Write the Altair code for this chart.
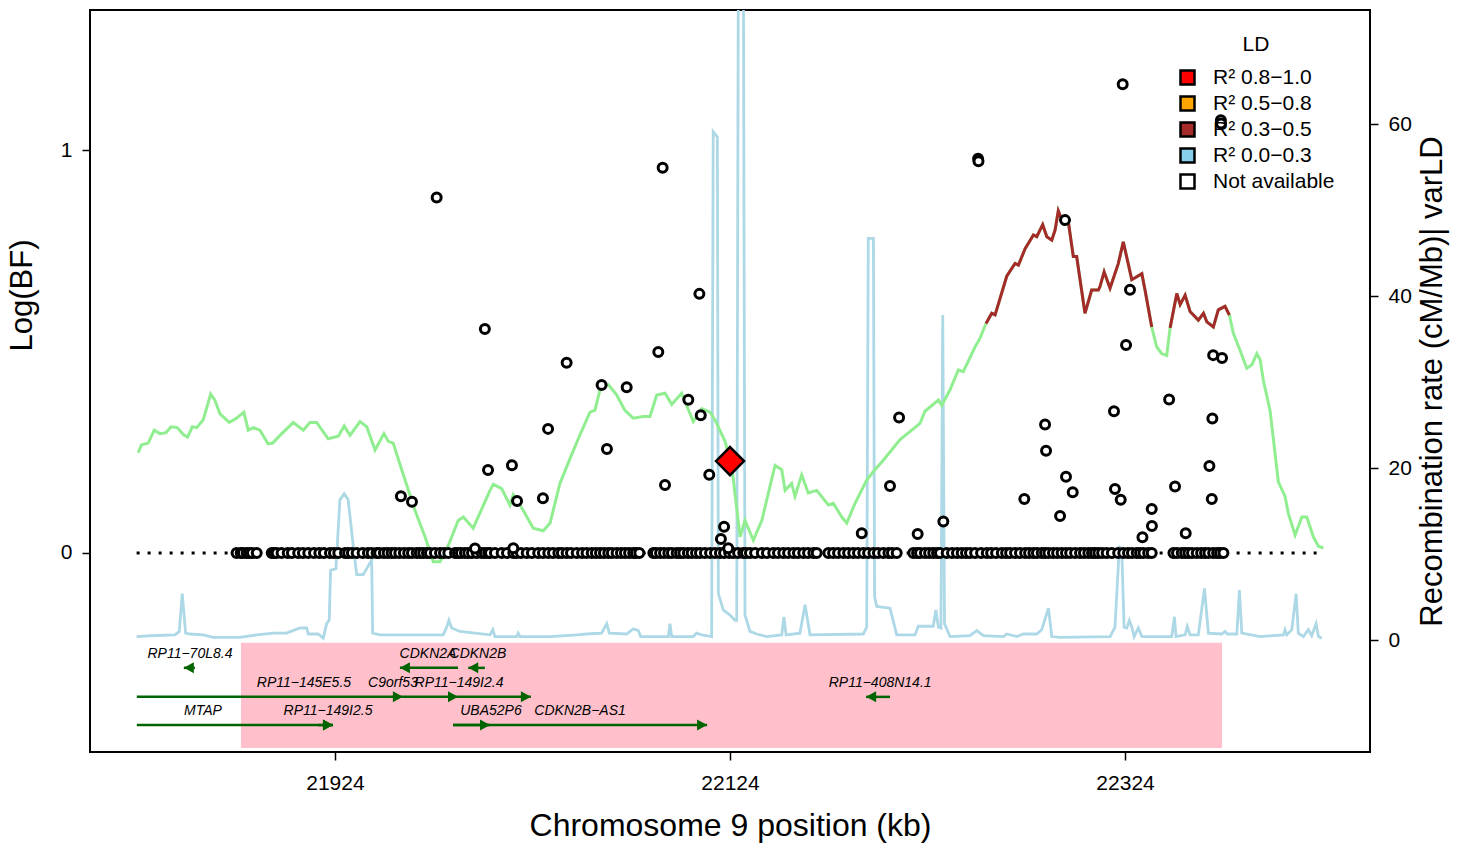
import altair as alt
import pandas as pd

FONT = "Liberation Sans"

# ---------------- data (kb positions, Log(BF), cM/Mb) ----------------
snp_zero_pos = [
    21874.2, 21876.3, 21877.4, 21879.3, 21880.6, 21882.0, 21884.4, 21892.0, 21893.1, 21894.5,
    21897.0, 21900.1, 21902.2, 21905.4, 21907.8, 21910.5, 21913.4, 21916.1, 21918.4, 21921.5,
    21923.5, 21925.7, 21929.1, 21930.7, 21932.6, 21935.0, 21938.0, 21940.7, 21942.6, 21945.1,
    21946.4, 21948.8, 21950.7, 21952.7, 21954.4, 21956.6, 21958.9, 21961.1, 21963.0, 21965.4,
    21967.0, 21968.7, 21970.6, 21972.1, 21974.6, 21977.2, 21979.2, 21981.4, 21984.8, 21986.3,
    21987.8, 21989.8, 21991.5, 21993.4, 21995.8, 21998.3, 21999.9, 22001.6, 22002.5, 22005.0,
    22008.4, 22011.1, 22014.3, 22016.0, 22018.2, 22021.1, 22023.7, 22026.9, 22029.3, 22032.0,
    22034.4, 22037.1, 22038.9, 22041.3, 22043.5, 22046.4, 22049.1, 22051.4, 22054.0, 22056.1,
    22058.2, 22060.2, 22062.4, 22064.2, 22066.6, 22068.8, 22070.8, 22072.9, 22075.0, 22076.4,
    22078.1, 22085.2, 22086.5, 22088.6, 22090.6, 22092.8, 22094.6, 22097.0, 22098.7, 22100.4,
    22102.7, 22104.6, 22106.8, 22108.8, 22111.3, 22113.9, 22116.4, 22118.9, 22121.0, 22123.6,
    22125.7, 22128.1, 22130.7, 22132.1, 22134.1, 22136.7, 22140.1, 22142.7, 22145.9, 22148.3,
    22151.0, 22153.4, 22156.1, 22158.4, 22161.1, 22163.5, 22166.2, 22167.9, 22173.8, 22176.2,
    22178.7, 22181.4, 22183.8, 22186.4, 22188.8, 22191.5, 22193.9, 22196.6, 22198.9, 22201.6,
    22204.2, 22206.0, 22208.4, 22216.8, 22218.7, 22220.2, 22222.7, 22224.8, 22226.9, 22228.8,
    22230.3, 22233.7, 22236.4, 22238.9, 22241.3, 22243.5, 22245.5, 22248.1, 22251.1, 22254.0,
    22256.2, 22258.7, 22261.6, 22263.8, 22265.8, 22268.3, 22270.8, 22273.4, 22275.4, 22277.6,
    22279.4, 22281.8, 22283.5, 22285.2, 22287.5, 22289.6, 22291.9, 22294.1, 22296.2, 22298.7,
    22301.2, 22303.2, 22305.4, 22307.3, 22308.8, 22310.5, 22312.4, 22314.7, 22317.3, 22320.5,
    22323.1, 22325.5, 22327.5, 22329.9, 22331.6, 22333.3, 22335.7, 22337.5, 22348.5, 22350.3,
    22352.7, 22354.4, 22356.1, 22357.9, 22360.3, 22362.5, 22364.5, 22366.2, 22368.6, 22370.6,
    22372.1, 22373.8,
]

snp_pos = [
    21975.5, 21999.9, 21957.4, 21963.0, 22001.5, 22013.6, 22016.2, 22029.3, 22031.9, 22041.3,
    22059.0, 22071.7, 22061.7, 22087.7, 22089.9, 22108.5, 22102.9, 22109.2, 22091.1, 22113.5,
    22121.0, 22119.4, 22123.1, 21994.9, 22014.3, 22190.7, 22205.0, 22209.6, 22219.0, 22232.0,
    22249.6, 22249.8, 22273.0, 22283.5, 22284.0, 22291.1, 22294.1, 22297.5, 22293.6, 22322.8,
    22326.5, 22324.5, 22318.4, 22318.9, 22321.8, 22332.8, 22337.5, 22337.6, 22346.3, 22349.3,
    22354.7, 22366.7, 22367.9, 22368.2, 22368.6, 22373.1, 22372.5, 22372.6,
]
snp_logbf = [
    0.882, 0.556, 0.141, 0.127, 0.206, 0.218, 0.129, 0.136, 0.308, 0.472,
    0.417, 0.411, 0.258, 0.499, 0.956, 0.643, 0.380, 0.342, 0.169, 0.194,
    0.065, 0.035, 0.012, 0.011, 0.012, 0.049, 0.166, 0.336, 0.047, 0.078,
    0.978, 0.972, 0.134, 0.319, 0.254, 0.092, 0.189, 0.151, 0.826, 1.163,
    0.653, 0.516, 0.352, 0.159, 0.132, 0.039, 0.109, 0.067, 0.381, 0.165,
    0.049, 0.216, 0.134, 0.334, 0.491, 0.484, 1.074, 1.066,
]

lead_pos = [22124.0]
lead_logbf = [0.228]

varld_pos = [
    21824.4, 21826.1, 21829.5, 21832.5, 21835.4, 21838.4, 21841.0, 21844.2, 21847.2, 21849.4,
    21851.8, 21854.0, 21857.3, 21861.1, 21863.2, 21865.8, 21870.5, 21874.2, 21877.9, 21880.1,
    21882.6, 21886.0, 21890.2, 21892.5, 21896.2, 21902.9, 21908.0, 21911.3, 21914.7, 21920.6,
    21925.7, 21928.7, 21931.6, 21936.7, 21940.1, 21944.3, 21948.8, 21951.0, 21953.5, 21957.8,
    21964.5, 21969.6, 21973.8, 21977.2, 21981.4, 21986.4, 21989.0, 21994.0, 22002.5, 22004.2,
    22008.4, 22012.6, 22014.3, 22019.3, 22024.4, 22029.5, 22032.9, 22037.9, 22043.0, 22047.2,
    22053.1, 22055.6, 22058.2, 22062.4, 22066.6, 22070.8, 22075.0, 22080.1, 22083.5, 22086.9,
    22091.1, 22094.5, 22099.5, 22105.4, 22109.7, 22113.9, 22116.4, 22121.5, 22124.9, 22129.1,
    22131.6, 22135.8, 22140.1, 22146.8, 22150.2, 22151.9, 22155.2, 22156.9, 22160.3, 22163.6,
    22167.9, 22173.8, 22176.3, 22180.6, 22183.1, 22187.3, 22193.2, 22196.6, 22201.6, 22210.1,
    22220.2, 22222.7, 22229.5, 22231.2, 22235.4, 22239.6, 22242.1, 22248.1, 22250.6, 22253.6,
    22256.5, 22258.2, 22264.1, 22268.3, 22270.0, 22273.4, 22277.6, 22279.3, 22282.3, 22284.4,
    22286.9, 22288.6, 22290.2, 22292.8, 22295.3, 22297.8, 22299.5, 22303.7, 22307.1, 22310.5,
    22311.3, 22313.4, 22316.4, 22320.6, 22323.1, 22327.4, 22332.5, 22334.1, 22337.5, 22340.0,
    22342.6, 22345.1, 22346.8, 22350.2, 22351.9, 22354.4, 22356.9, 22361.1, 22363.7, 22365.4,
    22368.7, 22371.2, 22374.6, 22376.8, 22378.8, 22382.2, 22385.6, 22388.2, 22390.7, 22392.4,
    22394.0, 22397.4, 22401.6, 22405.0, 22406.7, 22410.1, 22413.5, 22416.0, 22419.3, 22421.9,
    22424.4,
]
varld_val = [
    21.8, 22.7, 22.9, 24.4, 24.0, 24.1, 24.8, 24.7, 23.9, 23.6,
    24.8, 24.7, 25.6, 28.6, 27.9, 26.3, 25.3, 25.8, 26.5, 24.4,
    24.7, 24.4, 22.8, 22.9, 23.8, 25.3, 24.4, 25.3, 25.3, 23.4,
    23.7, 24.9, 23.8, 25.4, 24.8, 22.1, 24.0, 23.1, 22.9, 19.8,
    15.1, 12.0, 9.1, 9.1, 11.0, 13.9, 14.3, 13.0, 17.4, 18.1,
    17.6, 15.7, 16.9, 15.1, 13.0, 12.7, 13.6, 18.2, 21.1, 23.4,
    26.5, 26.7, 29.1, 29.7, 28.5, 26.7, 25.8, 26.0, 26.0, 28.5,
    28.7, 27.4, 28.7, 25.4, 26.9, 26.5, 25.6, 23.1, 20.2, 12.0,
    13.9, 11.6, 13.9, 20.3, 19.8, 17.4, 18.2, 16.7, 19.2, 17.1,
    17.4, 15.7, 15.9, 14.3, 13.6, 15.9, 18.6, 19.6, 20.9, 23.3,
    25.2, 26.6, 27.9, 27.3, 29.1, 31.4, 31.2, 34.1, 35.1, 36.8,
    38.0, 37.8, 42.3, 43.8, 43.6, 45.5, 47.1, 46.9, 48.3, 46.9,
    46.5, 47.7, 49.9, 48.4, 48.6, 44.6, 44.6, 38.0, 40.7, 40.7,
    41.1, 42.8, 40.9, 43.8, 46.3, 41.9, 42.6, 40.7, 36.4, 34.1,
    33.3, 33.1, 36.3, 40.3, 39.0, 40.1, 38.2, 37.2, 38.0, 37.0,
    36.4, 38.4, 38.8, 37.8, 35.7, 33.7, 31.6, 32.0, 33.3, 32.6,
    30.2, 26.7, 18.4, 16.7, 14.7, 12.2, 14.3, 14.3, 12.0, 10.9,
    10.7,
]
# LD class of each varLD point: 1 = R2 0.3-0.5 (brown), 0 = other (green)
varld_high = [0] * 109 + [1] * 30 + [0] * 3 + [1] * 12 + [0] * 17

recomb_pos = [
    21823.6, 21830.3, 21843.0, 21845.2, 21846.7, 21848.4, 21850.6, 21857.3, 21862.4, 21875.9,
    21884.4, 21892.8, 21899.5, 21906.3, 21909.7, 21910.5, 21915.5, 21918.1, 21919.8, 21921.1,
    21921.8, 21924.5, 21926.5, 21928.7, 21930.7, 21933.3, 21935.0, 21938.3, 21942.6, 21943.1,
    21946.8, 21978.8, 21980.6, 21981.7, 21983.1, 21987.3, 22002.5, 22003.9, 22005.0, 22016.0,
    22016.8, 22017.7, 22032.9, 22046.4, 22051.4, 22059.0, 22060.2, 22061.6, 22062.9, 22071.7,
    22075.0, 22077.6, 22078.8, 22092.8, 22093.6, 22094.5, 22105.4, 22107.1, 22109.7, 22114.7,
    22115.5, 22117.6, 22118.1, 22120.6, 22124.0, 22126.5, 22127.4, 22128.3, 22130.7, 22131.6,
    22134.1, 22137.5, 22142.6, 22150.2, 22151.3, 22152.4, 22159.4, 22162.0, 22164.5, 22191.5,
    22193.2, 22194.0, 22196.6, 22197.2, 22198.3, 22205.0, 22208.4, 22217.7, 22219.3, 22226.9,
    22228.2, 22229.5, 22230.8, 22231.7, 22232.6, 22235.4, 22245.5, 22248.9, 22252.3, 22262.4,
    22264.1, 22269.2, 22272.5, 22279.3, 22281.8, 22285.2, 22286.9, 22291.1, 22316.4, 22318.9,
    22321.1, 22322.3, 22323.5, 22324.9, 22326.2, 22327.4, 22328.6, 22330.7, 22332.5, 22347.6,
    22349.0, 22349.8, 22354.4, 22355.5, 22356.9, 22361.1, 22364.2, 22366.2, 22373.0, 22374.6,
    22375.8, 22380.6, 22381.9, 22383.1, 22392.4, 22404.2, 22405.0, 22405.9, 22408.4, 22410.6,
    22411.7, 22414.3, 22416.8, 22418.5, 22420.7, 22421.9, 22423.6,
]
recomb_rate = [
    0.4, 0.5, 0.6, 1.0, 5.4, 0.8, 0.7, 0.6, 0.3, 0.3,
    0.6, 0.8, 0.8, 1.4, 1.4, 0.7, 0.7, 0.2, 1.9, 2.3,
    8.1, 8.3, 16.3, 17.0, 16.3, 10.9, 7.6, 7.6, 9.3, 0.8,
    0.6, 0.6, 1.5, 2.3, 1.4, 1.0, 0.6, 1.2, 0.4, 0.4,
    0.8, 0.4, 0.4, 0.6, 0.7, 0.8, 1.3, 1.9, 0.8, 0.7,
    1.3, 1.1, 0.4, 0.4, 1.9, 0.4, 0.4, 0.8, 0.6, 0.4,
    59.1, 58.5, 5.4, 3.5, 2.9, 2.3, 2.3, 85.0, 85.0, 2.9,
    1.0, 0.7, 0.4, 0.6, 2.7, 0.6, 0.8, 4.1, 0.6, 0.7,
    1.5, 46.7, 46.7, 5.0, 3.9, 3.7, 0.6, 0.6, 1.6, 1.6,
    3.5, 1.5, 1.4, 37.8, 1.9, 0.4, 0.5, 1.1, 0.5, 0.4,
    0.7, 0.4, 0.7, 0.7, 1.2, 3.7, 0.4, 0.3, 0.4, 1.5,
    10.8, 10.7, 1.5, 1.4, 2.3, 1.5, 0.4, 1.4, 0.4, 0.4,
    2.7, 0.4, 0.6, 1.6, 0.6, 0.6, 6.0, 0.8, 0.7, 1.0,
    0.7, 0.7, 5.8, 0.8, 0.4, 0.6, 1.2, 0.6, 1.2, 5.4,
    0.8, 0.4, 1.2, 0.5, 1.9, 0.4, 0.2,
]

gene_names = ["RP11\u221270L8.4", "CDKN2A", "CDKN2B", "RP11\u2212145E5.5", "C9orf53",
              "RP11\u2212149I2.4", "RP11\u2212408N14.1", "MTAP", "RP11\u2212149I2.5",
              "UBA52P6", "CDKN2B\u2212AS1"]
gene_start = [21847.5, 21956.9, 21991.5, 21823.7, 21958.4, 21986.3, 22192.9, 21823.7, 21915.4, 21983.8, 21983.8]
gene_end = [21853.1, 21986.3, 21999.9, 21958.4, 21986.3, 22023.2, 22205.0, 21923.0, 21923.0, 22002.5, 22112.4]
gene_strand = ["-", "-", "-", "+", "+", "+", "-", "+", "+", "+", "+"]
gene_row = [1, 1, 1, 2, 2, 2, 2, 3, 3, 3, 3]
gene_label_pos = [21850.6, 21971.1, 21996.4, 21908.3, 21953.4, 21986.8, 22200.0, 21857.2, 21920.5, 22003.0, 22048.1]

region_start = [21876.4]
region_end = [22373.1]

ld_labels = ["R\u00b2 0.8\u22121.0", "R\u00b2 0.5\u22120.8", "R\u00b2 0.3\u22120.5",
             "R\u00b2 0.0\u22120.3", "Not available"]
ld_colors = ["#FF0000", "#FFA500", "#A52A2A", "#87CEEB", "#FFFFFF"]

# ---------------- layout constants ----------------
XDOM = [21800, 22448]
YL = [-0.4938, 1.3474]
YR = [-13.02, 73.26]
row_y = {1: -0.285, 2: -0.357, 3: -0.427}
track_top, track_bottom = -0.223, -0.484

xscale = alt.Scale(domain=XDOM, nice=False, zero=False)
ylscale = alt.Scale(domain=YL, nice=False, zero=False)
yrscale = alt.Scale(domain=YR, nice=False, zero=False)

xaxis = alt.Axis(values=[21924, 22124, 22324], format="d", title="Chromosome 9 position (kb)",
                 grid=False, domain=False, tickSize=8, tickWidth=1.5, tickColor="black",
                 labelPadding=12, titlePadding=17, labelFontSize=21, titleFontSize=32,
                 labelFont=FONT, titleFont=FONT, labelColor="black", titleColor="black",
                 titleFontWeight="normal")


def X(field, **kw):
    return alt.X(field, type="quantitative", scale=xscale, axis=xaxis, **kw)


def YLft(field, axis=None):
    return alt.Y(field, type="quantitative", scale=ylscale, axis=axis)


def YRgt(field, axis=None):
    return alt.Y(field, type="quantitative", scale=yrscale, axis=axis)


left_axis = alt.Axis(values=[0, 1], format="d", title="Log(BF)", grid=False, domain=False,
                     tickSize=8, tickWidth=1.5, tickColor="black", labelPadding=10,
                     titlePadding=22, labelFontSize=21, titleFontSize=31, labelFont=FONT,
                     titleFont=FONT, labelColor="black", titleColor="black",
                     titleFontWeight="normal", titleY=285)
right_axis = alt.Axis(orient="right", values=[0, 20, 40, 60], format="d",
                      title="Recombination rate (cM/Mb)| varLD", grid=False, domain=False,
                      tickSize=8, tickWidth=1.5, tickColor="black", labelPadding=10,
                      titlePadding=6, labelFontSize=21, titleFontSize=31, labelFont=FONT,
                      titleFont=FONT, labelColor="black", titleColor="black",
                      titleFontWeight="normal", titleAngle=270, titleBaseline="top")

# ---------------- tables ----------------
region_df = pd.DataFrame({"start": region_start, "end": region_end,
                          "top": [track_top], "bottom": [track_bottom]})
recomb_df = pd.DataFrame({"pos": recomb_pos, "rate": recomb_rate})
vl_df = pd.DataFrame({"pos": varld_pos, "val": varld_val, "high": varld_high})
seg, s, prev = [], 0, 0
for h in varld_high:
    if h and not prev:
        s += 1
    seg.append(s if h else 0)
    prev = h
vl_df["seg"] = seg
brown_df = vl_df[vl_df["high"] == 1]

pts_df = pd.DataFrame({
    "pos": snp_zero_pos + snp_pos,
    "logbf": [0.0] * len(snp_zero_pos) + snp_logbf,
    "ld": ["Not available"] * (len(snp_zero_pos) + len(snp_pos)),
})
lead_df = pd.DataFrame({"pos": lead_pos, "logbf": lead_logbf})
zero_df = pd.DataFrame({"start": [min(varld_pos[0], recomb_pos[0])], "end": [varld_pos[-1]], "y": [0.0]})

genes_df = pd.DataFrame({"name": gene_names, "start": gene_start, "end": gene_end,
                         "strand": gene_strand, "row": gene_row, "lab": gene_label_pos})
genes_df["y"] = genes_df["row"].map(row_y)
genes_df["head"] = [e if st == "+" else b for b, e, st in zip(gene_start, gene_end, gene_strand)]

# ---------------- layers ----------------
region = alt.Chart(region_df).mark_rect(color="#FFC0CB").encode(
    x=X("start"), x2="end", y=YLft("top"), y2="bottom")

blue = alt.Chart(recomb_df).mark_line(color="#ADD8E6", strokeWidth=2.8, clip=True).encode(
    x=X("pos"), y=YRgt("rate"))

green = alt.Chart(vl_df).mark_line(color="#90EE90", strokeWidth=3, clip=True).encode(
    x=X("pos"), y=YRgt("val", right_axis))

brown = alt.Chart(brown_df).mark_line(color="#A52A2A", strokeWidth=3, clip=True).encode(
    x=X("pos"), y=YRgt("val"), detail="seg:N")

zero_line = alt.Chart(zero_df).mark_rule(color="black", strokeWidth=3, strokeDash=[3, 8]).encode(
    x=X("start"), x2="end", y=YLft("y"))

gene_lines = alt.Chart(genes_df).mark_rule(color="#006400", strokeWidth=2.5).encode(
    x=X("start"), x2="end", y=YLft("y"))

head_plus = "M-1,-0.55L0,0L-1,0.55Z"
head_minus = "M1,-0.55L0,0L1,0.55Z"
gene_heads = alt.Chart(genes_df).mark_point(filled=True, color="#006400", size=400,
                                            opacity=1, strokeWidth=1).encode(
    x=X("head"), y=YLft("y"),
    shape=alt.Shape("strand:N", scale=alt.Scale(domain=["+", "-"], range=[head_plus, head_minus]),
                    legend=None))

gene_labels = alt.Chart(genes_df).mark_text(font=FONT, fontSize=14, fontStyle="italic",
                                            color="black", dy=-14, baseline="middle",
                                            align="center").encode(
    x=X("lab"), y=YLft("y"), text="name:N")

points = alt.Chart(pts_df).mark_point(shape="circle", filled=True, stroke="black",
                                      strokeWidth=3, size=81, opacity=1).encode(
    x=X("pos"), y=YLft("logbf", left_axis),
    fill=alt.Fill("ld:N", scale=alt.Scale(domain=ld_labels, range=ld_colors),
                  legend=alt.Legend(orient="none", legendX=1087, legendY=24, title="LD",
                                    titleFont=FONT, titleFontSize=21, titleFontWeight="normal",
                                    titleColor="black", titleAnchor="middle", titlePadding=12,
                                    labelFont=FONT, labelFontSize=21, labelColor="black",
                                    symbolType="square", symbolSize=196,
                                    symbolStrokeColor="black", symbolStrokeWidth=2.5,
                                    symbolOpacity=1, rowPadding=1, labelOffset=15,
                                    padding=0)))

lead = alt.Chart(lead_df).mark_point(shape="diamond", filled=True, fill="#FF0000", stroke="black",
                                     strokeWidth=2.5, size=784, opacity=1).encode(
    x=X("pos"), y=YLft("logbf"))

chart = alt.layer(region, blue, green, brown, zero_line, gene_lines, gene_heads, gene_labels,
                  points, lead).resolve_scale(y="independent").properties(
    width=1280, height=742,
    padding={"left": 90, "top": 10, "right": 94, "bottom": 97},
    autosize=alt.AutoSizeParams(type="none"),
    background="white",
).configure_view(stroke="black", strokeWidth=2)

chart.save("out.html", embed_options={"renderer": "svg", "actions": False})
